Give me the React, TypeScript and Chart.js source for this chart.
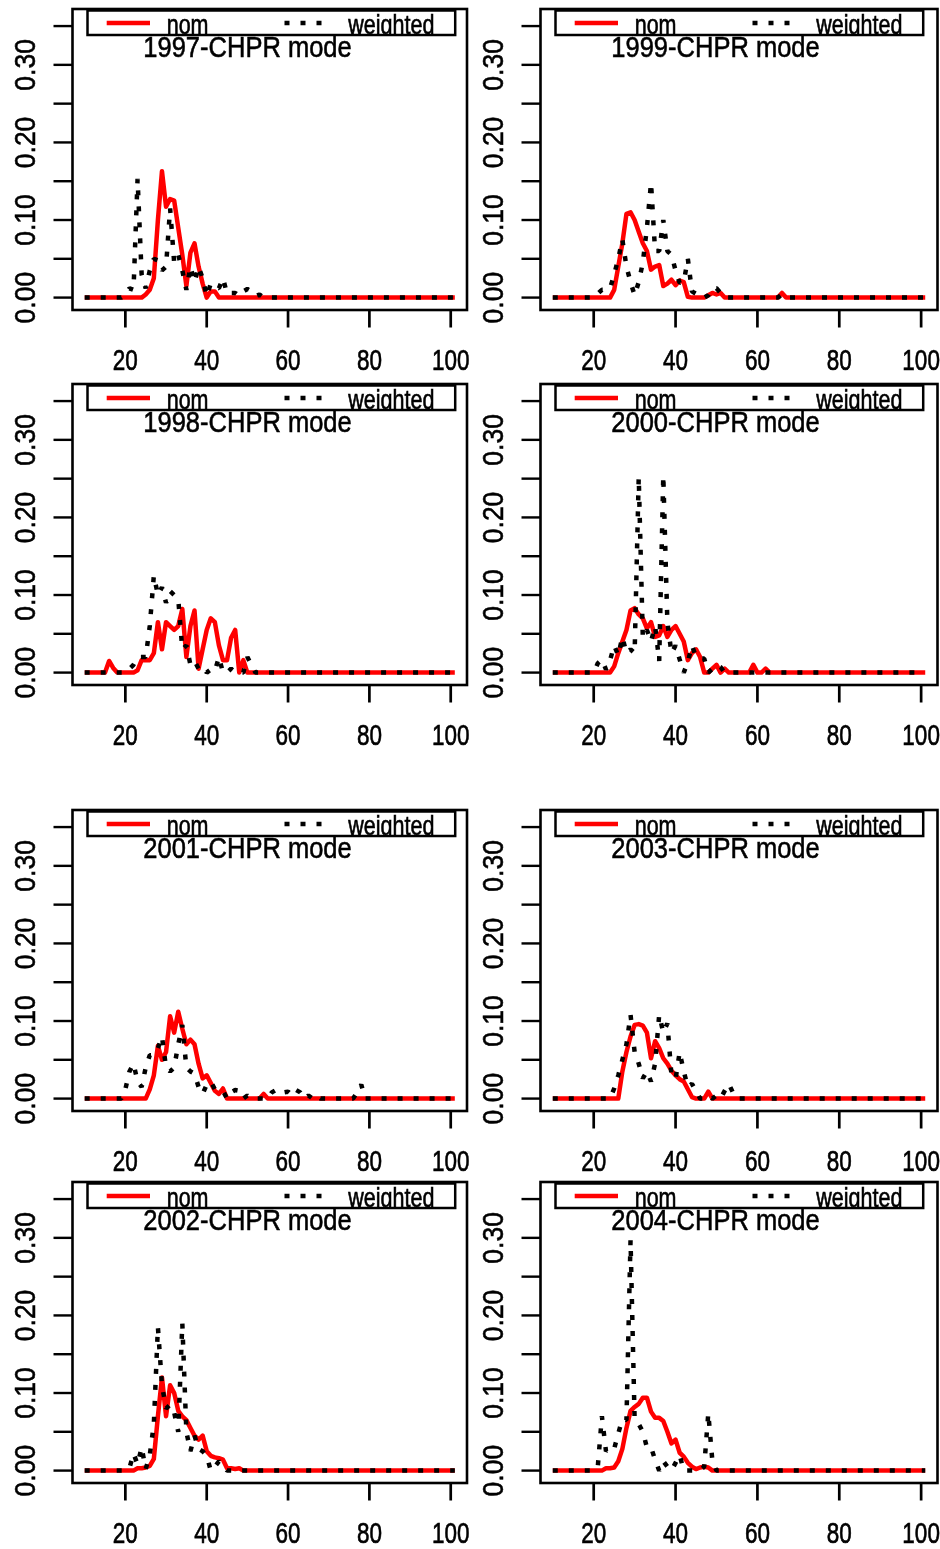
import React, { useEffect, useRef } from "react";
import { Chart, registerables } from "chart.js";

Chart.register(...registerables);

// ---------- data ----------
const AGES = [
  10, 11, 12, 13, 14, 15, 16, 17, 18, 19,
  20, 21, 22, 23, 24, 25, 26, 27, 28, 29,
  30, 31, 32, 33, 34, 35, 36, 37, 38, 39,
  40, 41, 42, 43, 44, 45, 46, 47, 48, 49,
  50, 51, 52, 53, 54, 55, 56, 57, 58, 59,
  60, 61, 62, 63, 64, 65, 66, 67, 68, 69,
  70, 71, 72, 73, 74, 75, 76, 77, 78, 79,
  80, 90, 101,
];

const X_TICKS = [20, 40, 60, 80, 100];
const X_LABELS = ["20", "40", "60", "80", "100"];
const Y_TICKS = [0, 0.05, 0.1, 0.15, 0.2, 0.25, 0.3, 0.35];
const Y_LABEL_VALUES = [0, 0.1, 0.2, 0.3];
const Y_LABELS = ["0.00", "0.10", "0.20", "0.30"];
const LEGEND_LABELS = ["nom", "weighted"];

const NOM_1997 = [
  0, 0, 0, 0, 0, 0, 0, 0, 0, 0,
  0, 0, 0, 0, 0, 0.004, 0.01, 0.025, 0.1, 0.163,
  0.117, 0.127, 0.125, 0.09, 0.055, 0.015, 0.058, 0.07, 0.04, 0.018,
  0, 0.008, 0.008, 0, 0, 0, 0, 0, 0, 0,
  0, 0, 0, 0, 0, 0, 0, 0, 0, 0,
  0, 0, 0, 0, 0, 0, 0, 0, 0, 0,
  0, 0, 0, 0, 0, 0, 0, 0, 0, 0,
  0, 0, 0,
];
const W_1997 = [
  0, 0, 0, 0, 0, 0, 0, 0, 0, 0,
  0.004, 0.012, 0.01, 0.153, 0.03, 0.012, 0.035, 0.05, 0.048, 0.035,
  0.04, 0.115, 0.045, 0.055, 0.035, 0.01, 0.04, 0.02, 0.04, 0.025,
  0.002, 0.018, 0.014, 0.012, 0.025, 0.005, 0.006, 0.006, 0.002, 0.008,
  0.011, 0.008, 0.002, 0.004, 0, 0, 0, 0, 0, 0,
  0, 0, 0, 0, 0, 0, 0, 0, 0, 0,
  0, 0, 0, 0, 0, 0, 0, 0, 0, 0,
  0, 0, 0,
];

const NOM_1999 = [
  0, 0, 0, 0, 0, 0, 0, 0, 0, 0,
  0, 0, 0, 0, 0, 0.01, 0.04, 0.07, 0.108, 0.11,
  0.1, 0.085, 0.07, 0.06, 0.036, 0.04, 0.042, 0.015, 0.018, 0.023,
  0.016, 0.022, 0.02, 0.001, 0, 0, 0, 0, 0.003, 0.006,
  0.004, 0.006, 0, 0, 0, 0, 0, 0, 0, 0,
  0, 0, 0, 0, 0, 0, 0.006, 0, 0, 0,
  0, 0, 0, 0, 0, 0, 0, 0, 0, 0,
  0, 0, 0,
];
const W_1999 = [
  0, 0, 0, 0, 0, 0, 0, 0, 0, 0,
  0, 0.005, 0.01, 0.01, 0.012, 0.03, 0.05, 0.075, 0.04, 0.02,
  0.003, 0.02, 0.045, 0.09, 0.148, 0.06, 0.06, 0.1, 0.06, 0.055,
  0.035, 0.019, 0.02, 0.05, 0.008, 0.005, 0, 0, 0.003, 0.012,
  0.012, 0.006, 0, 0, 0, 0, 0, 0, 0, 0,
  0, 0, 0, 0, 0, 0, 0.004, 0, 0, 0,
  0, 0, 0, 0, 0, 0, 0, 0, 0, 0,
  0, 0, 0,
];

const NOM_1998 = [
  0, 0, 0, 0, 0, 0, 0.015, 0.006, 0, 0,
  0, 0, 0, 0.003, 0.016, 0.016, 0.016, 0.025, 0.065, 0.03,
  0.065, 0.06, 0.055, 0.06, 0.082, 0.02, 0.06, 0.08, 0.005, 0.03,
  0.055, 0.07, 0.065, 0.035, 0.016, 0.016, 0.045, 0.055, 0, 0.016,
  0, 0, 0, 0, 0, 0, 0, 0, 0, 0,
  0, 0, 0, 0, 0, 0, 0, 0, 0, 0,
  0, 0, 0, 0, 0, 0, 0, 0, 0, 0,
  0, 0, 0,
];
const W_1998 = [
  0, 0, 0, 0, 0, 0, 0, 0, 0, 0,
  0, 0.005, 0.01, 0.02, 0.02, 0.02, 0.06, 0.125, 0.1, 0.11,
  0.09, 0.105, 0.1, 0.095, 0.03, 0.035, 0.01, 0.015, 0.005, 0.008,
  0, 0.004, 0.002, 0.02, 0, 0, 0.005, 0, 0, 0,
  0.02, 0.01, 0, 0, 0, 0, 0, 0, 0, 0,
  0, 0, 0, 0, 0, 0, 0, 0, 0, 0,
  0, 0, 0, 0, 0, 0, 0, 0, 0, 0,
  0, 0, 0,
];

const NOM_2000 = [
  0, 0, 0, 0, 0, 0, 0, 0, 0, 0,
  0, 0, 0, 0, 0, 0.008, 0.025, 0.04, 0.055, 0.08,
  0.083, 0.075, 0.07, 0.057, 0.065, 0.046, 0.048, 0.06, 0.046, 0.055,
  0.06, 0.05, 0.04, 0.016, 0.025, 0.03, 0.02, 0, 0, 0.005,
  0.01, 0, 0.005, 0, 0, 0, 0, 0, 0, 0.01,
  0, 0, 0.005, 0, 0, 0, 0, 0, 0, 0,
  0, 0, 0, 0, 0, 0, 0, 0, 0, 0,
  0, 0, 0,
];
const W_2000 = [
  0, 0, 0, 0, 0, 0, 0, 0, 0, 0,
  0, 0.012, 0.017, 0.004, 0.016, 0.035, 0.022, 0.046, 0.025, 0.03,
  0.025, 0.252, 0.045, 0.055, 0.04, 0.06, 0.015, 0.254, 0.065, 0.025,
  0.035, 0.017, 0, 0.014, 0.035, 0.02, 0.018, 0.018, 0, 0.005,
  0.01, 0.007, 0, 0, 0, 0, 0, 0, 0, 0,
  0, 0, 0, 0, 0, 0, 0, 0, 0, 0,
  0, 0, 0, 0, 0, 0, 0, 0, 0, 0,
  0, 0, 0,
];

const NOM_2001 = [
  0, 0, 0, 0, 0, 0, 0, 0, 0, 0,
  0, 0, 0, 0, 0, 0, 0.012, 0.03, 0.068, 0.05,
  0.06, 0.106, 0.085, 0.112, 0.09, 0.07, 0.076, 0.07, 0.045, 0.026,
  0.03, 0.02, 0.01, 0.006, 0.013, 0, 0, 0, 0, 0,
  0, 0, 0, 0, 0.006, 0, 0, 0, 0, 0,
  0, 0, 0, 0, 0, 0, 0, 0, 0, 0,
  0, 0, 0, 0, 0, 0, 0, 0, 0, 0,
  0, 0, 0,
];
const W_2001 = [
  0, 0, 0, 0, 0, 0, 0, 0, 0, 0,
  0.012, 0.035, 0.045, 0.022, 0.015, 0.04, 0.056, 0.056, 0.065, 0.08,
  0.04, 0.035, 0.04, 0.07, 0.095, 0.04, 0.035, 0.032, 0.015, 0.006,
  0.018, 0.022, 0.012, 0.01, 0.01, 0, 0.008, 0.011, 0.01, 0,
  0.004, 0, 0, 0, 0, 0, 0.008, 0.011, 0.012, 0.008,
  0.009, 0.004, 0.011, 0.008, 0, 0.004, 0, 0.004, 0, 0,
  0, 0, 0, 0, 0, 0, 0, 0.008, 0.018, 0,
  0, 0, 0,
];

const NOM_2003 = [
  0, 0, 0, 0, 0, 0, 0, 0, 0, 0,
  0, 0, 0, 0, 0, 0, 0, 0.035, 0.06, 0.08,
  0.095, 0.096, 0.094, 0.085, 0.052, 0.074, 0.065, 0.052, 0.045, 0.036,
  0.03, 0.025, 0.022, 0.012, 0.002, 0, 0, 0, 0.009, 0,
  0, 0, 0, 0, 0, 0, 0, 0, 0, 0,
  0, 0, 0, 0, 0, 0, 0, 0, 0, 0,
  0, 0, 0, 0, 0, 0, 0, 0, 0, 0,
  0, 0, 0,
];
const W_2003 = [
  0, 0, 0, 0, 0, 0, 0, 0, 0, 0,
  0, 0, 0, 0, 0, 0.013, 0.03, 0.05, 0.07, 0.108,
  0.06, 0.045, 0.026, 0.035, 0.022, 0.045, 0.108, 0.085, 0.097, 0.03,
  0.025, 0.06, 0.035, 0.015, 0.019, 0.01, 0, 0, 0.004, 0,
  0.004, 0, 0.01, 0.019, 0.008, 0, 0, 0, 0, 0,
  0, 0, 0, 0, 0, 0, 0, 0, 0, 0,
  0, 0, 0, 0, 0, 0, 0, 0, 0, 0,
  0, 0, 0,
];

const NOM_2002 = [
  0, 0, 0, 0, 0, 0, 0, 0, 0, 0,
  0, 0, 0, 0.003, 0.003, 0.004, 0.006, 0.015, 0.07, 0.12,
  0.07, 0.11, 0.1, 0.077, 0.07, 0.065, 0.055, 0.045, 0.04, 0.045,
  0.025, 0.019, 0.017, 0.016, 0.014, 0.003, 0.003, 0.002, 0.003, 0,
  0, 0, 0, 0, 0, 0, 0, 0, 0, 0,
  0, 0, 0, 0, 0, 0, 0, 0, 0, 0,
  0, 0, 0, 0, 0, 0, 0, 0, 0, 0,
  0, 0, 0,
];
const W_2002 = [
  0, 0, 0, 0, 0, 0, 0, 0, 0, 0,
  0, 0.003, 0.022, 0.008, 0.03, 0.002, 0.02, 0.06, 0.185, 0.11,
  0.08, 0.085, 0.075, 0.05, 0.19, 0.05, 0.025, 0.045, 0.028, 0.025,
  0.019, 0, 0.005, 0.012, 0.006, 0, 0, 0, 0, 0,
  0, 0, 0, 0, 0, 0, 0, 0, 0, 0,
  0, 0, 0, 0, 0, 0, 0, 0, 0, 0,
  0, 0, 0, 0, 0, 0, 0, 0, 0, 0,
  0, 0, 0,
];

const NOM_2004 = [
  0, 0, 0, 0, 0, 0, 0, 0, 0, 0,
  0, 0, 0, 0.003, 0.003, 0.004, 0.012, 0.028, 0.055, 0.077,
  0.082, 0.086, 0.094, 0.094, 0.076, 0.068, 0.068, 0.064, 0.05, 0.035,
  0.04, 0.023, 0.018, 0.01, 0.005, 0.002, 0.004, 0.005, 0.004, 0,
  0, 0, 0, 0, 0, 0, 0, 0, 0, 0,
  0, 0, 0, 0, 0, 0, 0, 0, 0, 0,
  0, 0, 0, 0, 0, 0, 0, 0, 0, 0,
  0, 0, 0,
];
const W_2004 = [
  0, 0, 0, 0, 0, 0, 0, 0, 0, 0,
  0, 0.005, 0.07, 0.025, 0.03, 0.028, 0.048, 0.066, 0.065, 0.297,
  0.065, 0.06, 0.05, 0.03, 0.03, 0.014, 0, 0.012, 0.005, 0,
  0.01, 0.02, 0, 0, 0, 0, 0, 0.005, 0.074, 0.012,
  0, 0, 0, 0, 0, 0, 0, 0, 0, 0,
  0, 0, 0, 0, 0, 0, 0, 0, 0, 0,
  0, 0, 0, 0, 0, 0, 0, 0, 0, 0,
  0, 0, 0,
];

// ---------- layout ----------
const CANVAS_W = 470;
const CANVAS_H = 376;
const COLS = [
  { left: 0, axisW: 72.5, padRight: 3 },
  { left: 470, axisW: 70.5, padRight: 2.5 },
];
const ROW_TOPS = [0, 375, 801, 1173];

const PANELS = [
  { title: "1997-CHPR mode", nom: NOM_1997, weighted: W_1997, col: 0, row: 0 },
  { title: "1999-CHPR mode", nom: NOM_1999, weighted: W_1999, col: 1, row: 0 },
  { title: "1998-CHPR mode", nom: NOM_1998, weighted: W_1998, col: 0, row: 1 },
  { title: "2000-CHPR mode", nom: NOM_2000, weighted: W_2000, col: 1, row: 1 },
  { title: "2001-CHPR mode", nom: NOM_2001, weighted: W_2001, col: 0, row: 2 },
  { title: "2003-CHPR mode", nom: NOM_2003, weighted: W_2003, col: 1, row: 2 },
  { title: "2002-CHPR mode", nom: NOM_2002, weighted: W_2002, col: 0, row: 3 },
  { title: "2004-CHPR mode", nom: NOM_2004, weighted: W_2004, col: 1, row: 3 },
];

const FONT = '"Liberation Sans", Arial, Helvetica, sans-serif';

function drawText(
  ctx: CanvasRenderingContext2D,
  s: string,
  x: number,
  y: number,
  size: number,
  sy: number,
  align: CanvasTextAlign,
  rotate = false
) {
  ctx.save();
  ctx.translate(x, y);
  if (rotate) ctx.rotate(-Math.PI / 2);
  ctx.scale(1, sy);
  ctx.font = `${size}px ${FONT}`;
  ctx.textAlign = align;
  ctx.textBaseline = "alphabetic";
  ctx.fillStyle = "#000";
  ctx.strokeStyle = "#000";
  ctx.lineWidth = 0.5;
  ctx.fillText(s, 0, 0);
  ctx.strokeText(s, 0, 0);
  ctx.restore();
}

function seg(ctx: CanvasRenderingContext2D, x0: number, y0: number, x1: number, y1: number) {
  ctx.beginPath();
  ctx.moveTo(x0, y0);
  ctx.lineTo(x1, y1);
  ctx.stroke();
}

const rStylePlugin = {
  id: "rstyle",
  afterDatasetsDraw(chart: any, _args: any, opts: any) {
    const ctx: CanvasRenderingContext2D = chart.ctx;
    const a = chart.chartArea;
    const xs = chart.scales.x;
    const ys = chart.scales.y;
    ctx.save();
    ctx.lineCap = "butt";

    // title
    drawText(ctx, opts.title, a.left + 175, a.top + 48, 25.5, 1.12, "center");

    // legend
    const lx0 = a.left + 15;
    const lx1 = a.left + 382.7;
    const ly0 = a.top + 1.5;
    const ly1 = a.top + 26;
    ctx.fillStyle = "#fff";
    ctx.fillRect(lx0, ly0, lx1 - lx0, ly1 - ly0);
    ctx.strokeStyle = "#ff0000";
    ctx.lineWidth = 4.5;
    ctx.setLineDash([]);
    seg(ctx, a.left + 34.2, a.top + 14, a.left + 77.5, a.top + 14);
    ctx.strokeStyle = "#000";
    ctx.lineWidth = 4.5;
    ctx.setLineDash([5, 11]);
    seg(ctx, a.left + 212, a.top + 14, a.left + 252, a.top + 14);
    ctx.setLineDash([]);
    ctx.save();
    ctx.beginPath();
    ctx.rect(lx0, ly0, lx1 - lx0, ly1 - ly0);
    ctx.clip();
    drawText(ctx, LEGEND_LABELS[0], a.left + 94.2, a.top + 24.5, 21.5, 1.25, "left");
    drawText(ctx, LEGEND_LABELS[1], a.left + 275.8, a.top + 24.5, 21.5, 1.25, "left");
    ctx.restore();
    ctx.strokeStyle = "#000";
    ctx.lineWidth = 2.5;
    ctx.strokeRect(lx0, ly0, lx1 - lx0, ly1 - ly0);

    // box
    ctx.lineWidth = 2.6;
    ctx.strokeRect(a.left, a.top, a.right - a.left, a.bottom - a.top);

    // y ticks + labels
    ctx.lineWidth = 2.4;
    for (const v of Y_TICKS) {
      const y = ys.getPixelForValue(v);
      seg(ctx, a.left - 19, y, a.left, y);
    }
    Y_LABEL_VALUES.forEach((v, i) => {
      const y = ys.getPixelForValue(v);
      drawText(ctx, Y_LABELS[i], a.left - 37.7, y, 26.5, 1.1, "center", true);
    });

    // x ticks + labels
    ctx.lineWidth = 2.7;
    X_TICKS.forEach((v, i) => {
      const x = xs.getPixelForValue(v);
      seg(ctx, x, a.bottom, x, a.bottom + 17.5);
      drawText(ctx, X_LABELS[i], x, a.bottom + 60, 22.5, 1.3, "center");
    });
    ctx.restore();
  },
};

function Panel({ p }: { p: (typeof PANELS)[number] }) {
  const ref = useRef<HTMLCanvasElement | null>(null);
  useEffect(() => {
    if (!ref.current) return;
    const col = COLS[p.col];
    const chart = new Chart(ref.current, {
      type: "line",
      data: {
        datasets: [
          {
            label: LEGEND_LABELS[1],
            data: AGES.map((a, i) => ({ x: a, y: p.weighted[i] })),
            borderColor: "#000",
            borderWidth: 4.5,
            borderDash: [5, 11],
            borderCapStyle: "butt",
            borderJoinStyle: "bevel",
            pointRadius: 0,
            tension: 0,
            fill: false,
          },
          {
            label: LEGEND_LABELS[0],
            data: AGES.map((a, i) => ({ x: a, y: p.nom[i] })),
            borderColor: "#ff0000",
            borderWidth: 4.5,
            borderCapStyle: "butt",
            borderJoinStyle: "round",
            pointRadius: 0,
            tension: 0,
            fill: false,
          },
        ],
      },
      options: {
        animation: false,
        responsive: false,
        maintainAspectRatio: false,
        devicePixelRatio: 1,
        events: [],
        layout: { padding: { top: 9, right: col.padRight, left: 0, bottom: 0 } },
        plugins: {
          legend: { display: false },
          tooltip: { enabled: false },
          rstyle: { title: p.title },
        } as any,
        scales: {
          x: {
            type: "linear",
            min: 7,
            max: 104,
            grid: { display: false },
            border: { display: false },
            ticks: { display: false },
            afterBuildTicks: (s: any) => {
              s.ticks = X_TICKS.map((v) => ({ value: v }));
            },
            afterFit: (s: any) => {
              s.height = CANVAS_H - 9 - 301;
            },
          },
          y: {
            type: "linear",
            min: -0.016,
            max: 0.372,
            grid: { display: false },
            border: { display: false },
            ticks: { display: false },
            afterBuildTicks: (s: any) => {
              s.ticks = Y_TICKS.map((v) => ({ value: v }));
            },
            afterFit: (s: any) => {
              s.width = col.axisW;
            },
          },
        },
      } as any,
      plugins: [rStylePlugin as any],
    });
    return () => chart.destroy();
  }, [p]);

  const col = COLS[p.col];
  return (
    <canvas
      ref={ref}
      width={CANVAS_W}
      height={CANVAS_H}
      style={{
        position: "absolute",
        left: col.left,
        top: ROW_TOPS[p.row],
        width: CANVAS_W,
        height: CANVAS_H,
      }}
    />
  );
}

export default function App() {
  return (
    <div
      style={{
        position: "absolute",
        left: 0,
        top: 0,
        width: 940,
        height: 1549,
        background: "#fff",
        overflow: "hidden",
      }}
    >
      {PANELS.map((p) => (
        <Panel key={p.title} p={p} />
      ))}
    </div>
  );
}
